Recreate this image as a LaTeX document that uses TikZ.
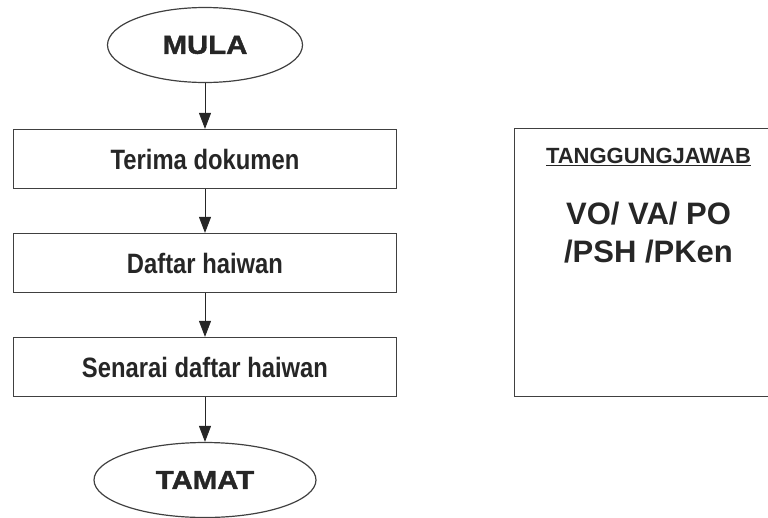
\documentclass[tikz,border=0pt]{standalone}
\usepackage{fontspec}
\setmainfont{Liberation Sans}
\newfontfamily\wideface[FakeStretch=1.13, FakeBold=1.5]{Liberation Sans}
\newfontfamily\narrowface[FakeStretch=0.85]{Liberation Sans}
\usepackage{tikz}
\usetikzlibrary{arrows.meta, positioning, shapes.geometric}
\usepackage{xcolor}

\begin{document}
\begin{tikzpicture}[x=1pt, y=1pt, node distance=104pt]
            \tikzstyle{block} = [rectangle, draw=black!75, line width=1.2pt, minimum width=383pt, minimum height=59pt, text=black!85, font=\fontsize{28}{32}\selectfont\narrowface\bfseries]
            \tikzstyle{term} = [ellipse, draw=black!75, line width=1.2pt, minimum height=75pt, inner sep=0pt, text=black!85, font=\fontsize{26}{30}\selectfont\wideface\bfseries]
            \tikzstyle{line} = [draw=black!85, line width=0.9pt, -{Triangle[length=16pt, width=12pt]}]

            \useasboundingbox (0,0) rectangle (768,-517);

            \node [term, minimum width=195pt] (mula) at (205,-45) {MULA};
            \node [block, node distance=114pt, below of=mula] (terima) {Terima dokumen};
            \node [block, below of=terima] (daftar) {Daftar haiwan};
            \node [block, below of=daftar] (senarai) {Senarai daftar haiwan};
            \node [term, minimum width=222pt, node distance=113pt, below of=senarai] (tamat) {TAMAT};

            % kotak tanggungjawab (tepi kanan terpotong)
            \node [minimum width=253pt, minimum height=267pt, inner sep=0pt] (resp) at (641.5,-262.5) {};
            \draw [black!75, line width=1.2pt] (resp.north east) -- (resp.north west) -- (resp.south west) -- (resp.south east);
            \node [below=19pt of resp.north, xshift=7pt, inner sep=0pt, text=black!85, font=\fontsize{22}{26}\selectfont\bfseries] (tanggung) {\underline{TANGGUNGJAWAB}};
            \node [below=36pt of tanggung, inner sep=0pt, align=center, text=black!85, font=\fontsize{31}{38}\selectfont\bfseries] (pegawai) {VO/ VA/ PO\\/PSH /PKen};

            \path [line] (mula) -- (terima);
            \path [line] (terima) -- (daftar);
            \path [line] (daftar) -- (senarai);
            \path [line] (senarai) -- (tamat);
        \end{tikzpicture}
\end{document}
